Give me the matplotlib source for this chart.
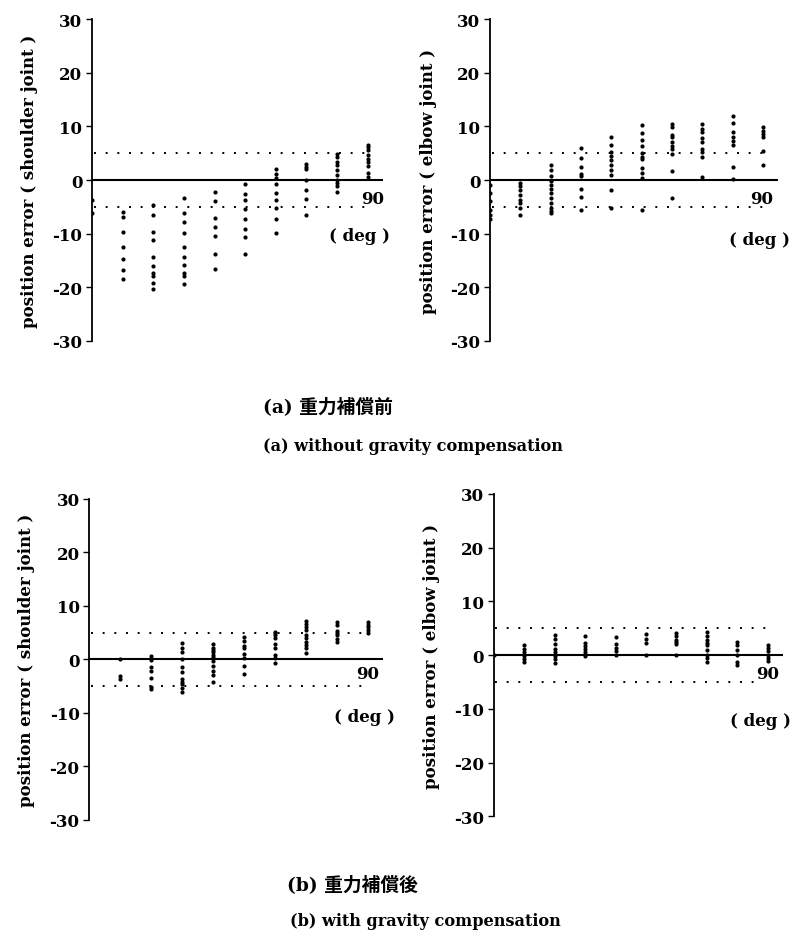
import numpy as np
import matplotlib
matplotlib.use("Agg")
import matplotlib.pyplot as plt

plt.rcParams["axes.unicode_minus"] = False

# joint angle of each measurement column (deg)
angles = [0, 10, 20, 30, 40, 50, 60, 70, 80, 90]

# (a) without gravity compensation, shoulder joint
shoulder_before = [
    [-3.7, -6.2],
    [-6.0, -6.8, -9.7, -12.5, -14.8, -16.7, -18.5],
    [-4.7, -6.6, -9.6, -11.2, -14.3, -16.1, -17.4, -17.8, -19.1, -20.4],
    [-3.4, -6.1, -7.8, -9.9, -12.5, -14.3, -15.8, -17.4, -17.8, -19.4],
    [-2.3, -3.9, -7.1, -8.8, -10.4, -13.7, -16.5],
    [-0.7, -2.6, -3.8, -5.4, -7.3, -9.1, -10.7, -13.8],
    [2.0, 1.2, 0.3, -0.8, -2.4, -3.8, -5.3, -7.2, -9.9],
    [3.0, 2.5, 2.0, 0.0, -1.9, -3.6, -6.5],
    [4.8, 4.2, 3.4, 2.8, 1.9, 0.9, 0.0, -0.6, -1.2, -2.3],
    [6.6, 6.1, 5.6, 4.7, 4.0, 3.4, 2.7, 1.4, 0.6],
]

# (a) without gravity compensation, elbow joint
elbow_before = [
    [-1.0, -2.5, -4.0, -5.5, -6.5, -7.2],
    [-0.6, -1.2, -1.9, -2.8, -3.7, -4.3, -5.3, -6.5],
    [2.8, 1.8, 0.8, -0.1, -0.9, -1.6, -2.5, -3.3, -4.2, -5.2, -5.8, -6.2],
    [5.9, 4.1, 2.5, 1.2, 0.7, -1.6, -3.1, -5.6],
    [8.1, 6.6, 5.2, 4.5, 3.7, 2.8, 1.8, 1.0, -1.9, -5.2],
    [10.2, 8.8, 7.5, 6.3, 5.0, 4.3, 3.9, 2.2, 1.4, 0.3, -5.6],
    [10.4, 9.8, 8.4, 8.0, 7.0, 6.4, 5.8, 4.8, 1.7, -3.4],
    [10.4, 9.6, 8.9, 7.8, 7.1, 5.8, 5.2, 4.2, 0.6],
    [12.0, 10.6, 8.9, 8.1, 7.3, 6.5, 2.4, 0.2],
    [9.8, 9.2, 8.6, 8.0, 5.5, 2.8],
]

# (b) with gravity compensation, shoulder joint
shoulder_after = [
    [],
    [0.0, -3.2, -3.6],
    [0.6, -0.2, -1.4, -2.2, -3.5, -5.1, -5.5],
    [3.0, 2.2, 1.4, 0.0, -1.5, -2.3, -3.6, -4.2, -4.6, -5.3, -6.1],
    [2.8, 2.2, 1.8, 1.4, 0.9, 0.4, -0.3, -1.3, -2.1, -3.0, -4.3],
    [4.1, 3.4, 2.5, 2.2, 1.0, 0.3, -1.2, -2.8],
    [5.2, 4.9, 4.6, 4.0, 2.8, 2.1, 0.9, 0.3, -0.7],
    [7.1, 6.6, 6.1, 5.5, 4.5, 4.0, 3.3, 2.7, 2.1, 1.1],
    [7.0, 6.5, 5.4, 5.0, 4.5, 3.9, 3.2],
    [7.0, 6.5, 6.0, 5.5, 5.0],
]

# (b) with gravity compensation, elbow joint
elbow_after = [
    [0.0],
    [1.8, 1.1, 0.5, -0.1, -0.7, -1.3],
    [3.8, 3.0, 2.0, 1.1, 0.5, -0.1, -0.7, -1.4],
    [3.6, 2.3, 1.7, 1.1, 0.5, -0.1],
    [3.3, 2.0, 1.4, 0.8, 0.1],
    [4.0, 3.0, 2.2, 0.0],
    [4.1, 3.5, 2.9, 2.5, 2.0, 0.1],
    [4.3, 3.5, 2.9, 2.3, 1.8, 1.0, 0.1, -0.5, -1.2],
    [2.4, 1.9, 1.0, 0.1, -1.2, -1.8],
    [1.9, 1.3, 0.7, 0.0, -0.6, -1.1],
]

limit = 5.0
yticks = [-30, -20, -10, 0, 10, 20, 30]

SERIF = "DejaVu Serif"
CAPTION_FONT = ["DejaVu Serif", "Noto Sans CJK JP"]


def draw_panel(ax, columns, ylabel, label90, labeldeg, lower_end=90):
    for ang, vals in zip(angles, columns):
        if vals:
            ax.plot(np.full(len(vals), ang), vals, "o", color="black",
                    ms=3.0, mec="none", zorder=4)

    # tolerance band and abscissa
    ax.plot([0.5, 90], [limit, limit], color="black", lw=1.4,
            linestyle=(0, (1, 5)))
    ax.plot([0.5, lower_end], [-limit, -limit], color="black", lw=1.4,
            linestyle=(0, (1, 5)))
    ax.plot([0, 95], [0, 0], color="black", lw=1.5, zorder=3)

    ax.set_xlim(0, 95)
    ax.set_ylim(-30, 30)
    for side in ["top", "right", "bottom"]:
        ax.spines[side].set_visible(False)
    ax.spines["left"].set_linewidth(1.3)
    ax.set_xticks([])
    ax.set_yticks(yticks)
    ax.tick_params(axis="y", direction="out", length=4, width=1.0, pad=3)
    for t in ax.get_yticklabels():
        t.set_fontfamily(SERIF)
        t.set_fontweight("bold")
        t.set_fontsize(12)

    ax.text(-0.215, 0.5, ylabel, transform=ax.transAxes, rotation=90,
            ha="center", va="center", family=SERIF, fontweight="bold",
            fontsize=12)
    ax.text(label90[0], label90[1], "90", ha="center", va="center",
            family=SERIF, fontweight="bold", fontsize=12)
    ax.text(labeldeg[0], labeldeg[1], "( deg )", ha="center", va="center",
            family=SERIF, fontweight="bold", fontsize=12)


fig = plt.figure(figsize=(8.07, 9.45), dpi=100)

ax1 = fig.add_axes([0.1140, 0.6381, 0.3606, 0.3407])
ax2 = fig.add_axes([0.6072, 0.6381, 0.3569, 0.3407])
ax3 = fig.add_axes([0.1107, 0.1315, 0.3639, 0.3394])
ax4 = fig.add_axes([0.6121, 0.1351, 0.3581, 0.3411])

draw_panel(ax1, shoulder_before, "position error ( shoulder joint )",
           (91.5, -3.5), (87.3, -10.4))
draw_panel(ax2, elbow_before, "position error ( elbow joint )",
           (89.7, -3.5), (89.0, -11.0))
draw_panel(ax3, shoulder_after, "position error ( shoulder joint )",
           (90.0, -2.6), (88.9, -10.7))
draw_panel(ax4, elbow_after, "position error ( elbow joint )",
           (90.0, -3.5), (87.5, -12.2), lower_end=87)

fig.text(263 / 807, 1 - 407 / 945, "(a) 重力補償前", ha="left", va="center",
         family=CAPTION_FONT, fontsize=13.5, fontweight="bold")
fig.text(263 / 807, 1 - 447 / 945, "(a) without gravity compensation",
         ha="left", va="center", family=CAPTION_FONT, fontsize=11.6,
         fontweight="bold")
fig.text(287 / 807, 1 - 885 / 945, "(b) 重力補償後", ha="left", va="center",
         family=CAPTION_FONT, fontsize=13.5, fontweight="bold")
fig.text(290 / 807, 1 - 922 / 945, "(b) with gravity compensation",
         ha="left", va="center", family=CAPTION_FONT, fontsize=11.6,
         fontweight="bold")

fig.savefig("out.png", dpi=100, facecolor="white")
